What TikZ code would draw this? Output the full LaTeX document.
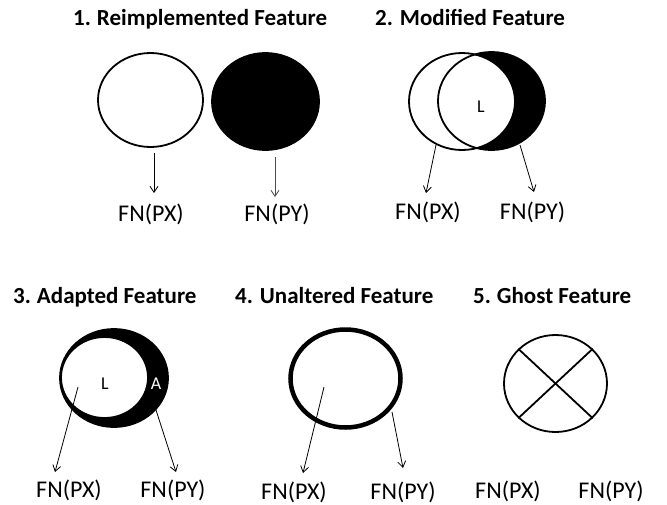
\documentclass[tikz,border=0pt]{standalone}
\usepackage{fontspec}
\setmainfont{Carlito}
\usetikzlibrary{shapes.geometric,arrows.meta}
\begin{document}
\begin{tikzpicture}[x=1pt,y=-1pt,
  title/.style={anchor=base west,inner sep=0pt,font=\fontsize{23}{25}\selectfont\bfseries},
  fnlabel/.style={anchor=base,inner sep=0pt,font=\fontsize{24}{26}\selectfont},
  inlabel/.style={inner sep=0pt,font=\fontsize{18}{20}\selectfont},
  feat/.style={ellipse,draw=black,line width=1.8pt,inner sep=0pt},
  arr/.style={draw=black,line width=0.8pt,-{Straight Barb[length=6pt,width=8pt]}}
]
\useasboundingbox (0,0) rectangle (667,504);
% ---------- Panel 1
\node[title] (t1) at (73,25.7) {1.\hspace{6pt}Reimplemented Feature};
\node[feat,fill=white,minimum width=105,minimum height=94] (e1a) at (150.5,100) {};
\node[feat,fill=black,minimum width=107,minimum height=97] (e1b) at (265.5,101.5) {};
\coordinate (s1a) at (154,153); \coordinate (d1a) at (154,193);
\coordinate (s1b) at (275,157); \coordinate (d1b) at (275,197);
\draw[arr] (s1a) -- (d1a);
\draw[arr,draw=black!70] (s1b) -- (d1b);
\node[fnlabel] (f1a) at (151,221.7) {FN(PX)};
\node[fnlabel] (f1b) at (277,221.7) {FN(PY)};
% ---------- Panel 2
\node[title] (t2) at (375,25.7) {2. Modified Feature};
\fill[black] (491.5,101) ellipse [x radius=53.5,y radius=49];
\node[feat,fill=white,minimum width=106,minimum height=97] (e2a) at (462,101.5) {};
\node[feat,minimum width=107,minimum height=98] (e2b) at (491.5,101) {};
\node[inlabel] (l2) at (481,107) {L};
\coordinate (s2a) at (436,145); \coordinate (d2a) at (426,193);
\coordinate (s2b) at (520,145); \coordinate (d2b) at (534,192);
\draw[arr] (s2a) -- (d2a);
\draw[arr] (s2b) -- (d2b);
\node[fnlabel] (f2a) at (428,219) {FN(PX)};
\node[fnlabel] (f2b) at (532.5,219) {FN(PY)};
% ---------- Panel 3
\node[title] (t3) at (13,303.3) {3.\hspace{6pt}Adapted Feature};
\node[feat,fill=black,minimum width=108,minimum height=98] (e3a) at (114,378) {};
\node[feat,fill=white,minimum width=87,minimum height=81] (e3b) at (104.5,377.5) {};
\node[inlabel] (l3) at (105,384) {L};
\node[inlabel,text=white] (a3) at (156,384) {A};
\coordinate (s3a) at (78,387); \coordinate (d3a) at (55,472);
\coordinate (s3b) at (156,410); \coordinate (d3b) at (176,472);
\draw[arr] (s3a) -- (d3a);
\draw[arr] (s3b) -- (d3b);
\node[fnlabel] (f3a) at (69,497.5) {FN(PX)};
\node[fnlabel] (f3b) at (173,497.5) {FN(PY)};
% ---------- Panel 4
\node[title] (t4) at (235,303.3) {4. Unaltered Feature};
\node[feat,line width=4.5pt,minimum width=110,minimum height=98] (e4) at (345.5,378.5) {};
\coordinate (s4a) at (324,387); \coordinate (d4a) at (303,473);
\coordinate (s4b) at (392,412); \coordinate (d4b) at (403,468);
\draw[arr] (s4a) -- (d4a);
\draw[arr] (s4b) -- (d4b);
\node[fnlabel] (f4a) at (294,499) {FN(PX)};
\node[fnlabel] (f4b) at (403,499) {FN(PY)};
% ---------- Panel 5
\node[title] (t5) at (473,303.3) {5.\hspace{6pt}Ghost Feature};
\node[feat,minimum width=103,minimum height=97] (e5) at (555.5,383.5) {};
\draw[line width=1.8pt] (e5.137) -- (e5.-43);
\draw[line width=1.8pt] (e5.43) -- (e5.-137);
\node[fnlabel] (f5a) at (508,498) {FN(PX)};
\node[fnlabel] (f5b) at (611,498) {FN(PY)};
\end{tikzpicture}
\end{document}
